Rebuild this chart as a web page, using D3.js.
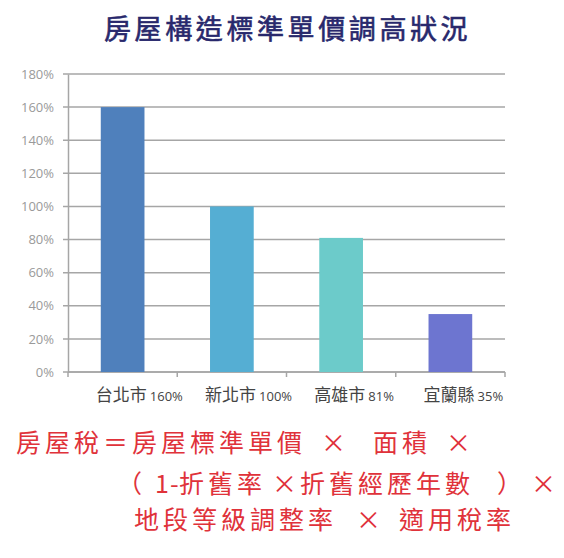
<!DOCTYPE html>
<html>
<head>
<meta charset="utf-8">
<script src="https://cdn.jsdelivr.net/npm/d3@7"></script>
<style>
  body { margin: 0; background: #fff; }
  svg { display: block; }
</style>
</head>
<body>
<script>
const w = 564;
const h = 558;

// chart data
const cities = ["台北市", "新北市", "高雄市", "宜蘭縣"];
const rates = [160, 100, 81, 35];
const barColors = ["#4f80bc", "#55aed3", "#6ccbca", "#6d75d0"];
const yTicks = [0, 20, 40, 60, 80, 100, 120, 140, 160, 180];

const title = "房屋構造標準單價調高狀況";
// formula lines, each split into pieces placed along the line
const formulaLines = [
  [["房屋稅＝房屋標準單價", 16], ["×", 321], ["面積", 373], ["×", 446]],
  [["（", 117], ["1", 155, 0], ["-", 170, 0], ["折舊率", 179], ["×", 272], ["折舊經歷年數", 300], ["）", 497], ["×", 531]],
  [["地段等級調整率", 134], ["×", 356], ["適用稅率", 399]]
];

const plotLeft = 68, plotRight = 505, plotTop = 74, plotBottom = 372;
const gridColor = "#a6a6a6";

const svg = d3.select("body")
  .append("svg")
  .attr("width", w)
  .attr("height", h);

svg.append("text")
  .attr("x", 104)
  .attr("y", 39)
  .attr("fill", "#28286c")
  .attr("stroke", "#28286c")
  .attr("stroke-width", 0.6)
  .style("font-family", "'Noto Sans CJK TC', sans-serif")
  .style("font-size", "27px")
  .style("letter-spacing", "3.6px")
  .text(title);

const xScale = d3.scaleBand()
  .domain(cities)
  .range([plotLeft, plotRight])
  .paddingInner(0.6)
  .paddingOuter(0.3);

const yScale = d3.scaleLinear()
  .domain([0, 180])
  .range([plotBottom, plotTop]);

// grid lines
svg.append("g")
  .selectAll("line")
  .data(yTicks)
  .enter()
  .append("line")
  .attr("x1", plotLeft - 5)
  .attr("x2", plotRight)
  .attr("y1", d => yScale(d))
  .attr("y2", d => yScale(d))
  .attr("stroke", gridColor)
  .attr("stroke-width", 1.5);

// y axis
const yAxis = d3.axisLeft(yScale)
  .tickValues(yTicks)
  .tickSize(0)
  .tickPadding(14)
  .tickFormat(d => d + "%");

const yAxisGroup = svg.append("g")
  .attr("transform", `translate(${plotLeft}, 0)`)
  .call(yAxis);
yAxisGroup.select(".domain").attr("stroke", gridColor).attr("stroke-width", 1.5);
yAxisGroup.selectAll(".tick text")
  .attr("fill", "#9a9a9a")
  .style("font-family", "'Open Sans', sans-serif")
  .style("font-size", "13px");

// x axis line with tick marks between categories
const step = xScale.step();
const boundaries = d3.range(cities.length + 1).map(i => plotLeft + i * step);
svg.append("line")
  .attr("x1", plotLeft)
  .attr("x2", plotRight)
  .attr("y1", plotBottom)
  .attr("y2", plotBottom)
  .attr("stroke", gridColor)
  .attr("stroke-width", 1.5);
svg.append("g")
  .selectAll("line")
  .data(boundaries)
  .enter()
  .append("line")
  .attr("x1", d => d)
  .attr("x2", d => d)
  .attr("y1", plotBottom)
  .attr("y2", plotBottom + 5)
  .attr("stroke", gridColor)
  .attr("stroke-width", 1.5);

// bars
svg.append("g")
  .selectAll("rect")
  .data(cities)
  .enter()
  .append("rect")
  .attr("x", d => xScale(d))
  .attr("width", xScale.bandwidth())
  .attr("y", (d, i) => yScale(rates[i]))
  .attr("height", (d, i) => yScale(0) - yScale(rates[i]))
  .attr("fill", (d, i) => barColors[i]);

// category labels: city name + rate
const labels = svg.append("g")
  .selectAll("text")
  .data(cities)
  .enter()
  .append("text")
  .attr("x", d => xScale(d) - 5)
  .attr("y", 401)
  .attr("fill", "#444")
  .style("font-family", "'Noto Sans CJK TC', sans-serif");
labels.append("tspan")
  .style("font-size", "17px")
  .text(d => d);
labels.append("tspan")
  .attr("dx", 3)
  .style("font-family", "'Open Sans', sans-serif")
  .style("font-size", "13px")
  .text((d, i) => rates[i] + "%");

// formula
const formula = svg.append("g")
  .attr("fill", "#e0323a")
  .style("font-family", "'Noto Sans CJK TC', sans-serif")
  .style("font-size", "25px");
const lineY = [452, 493, 529];
formulaLines.forEach((parts, li) => {
  formula.selectAll(null)
    .data(parts)
    .enter()
    .append("text")
    .attr("x", d => d[1])
    .attr("y", lineY[li])
    .style("letter-spacing", d => (d[2] === undefined ? 4 : d[2]) + "px")
    .text(d => d[0]);
});
</script>
</body>
</html>
